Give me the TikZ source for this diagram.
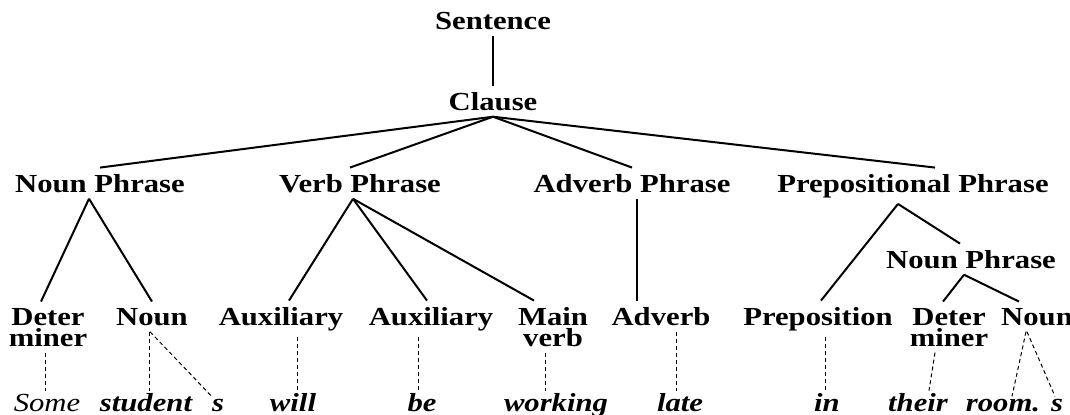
\documentclass[tikz,border=0pt]{standalone}
\usepackage{fontspec}
\setmainfont{Liberation Serif}[FakeStretch=1.18]

\begin{document}
\begin{tikzpicture}[x=0.5pt,y=-0.5pt,
  cat/.style={font=\fontsize{13}{10.5}\selectfont\bfseries, anchor=base,
    inner xsep=0pt, inner ysep=3pt, align=center},
  word/.style={font=\fontsize{13}{10.5}\selectfont\bfseries\itshape, anchor=base,
    inner xsep=0pt, inner ysep=1pt},
  branch/.style={line width=1pt},
  trace/.style={line width=0.5pt, dash pattern=on 2pt off 1.5pt}]
  \useasboundingbox (0,0) rectangle (1070,414);

  % phrase levels
  \node[cat] (S)    at (493,29)  {Sentence};
  \node[cat] (C)    at (493,110) {Clause};
  \node[cat] (NP)   at (100,192) {Noun Phrase};
  \node[cat] (VP)   at (360,192) {Verb Phrase};
  \node[cat] (AdvP) at (632,192) {Adverb Phrase};
  \node[cat] (PP)   at (913,192) {Prepositional Phrase};
  \node[cat] (NP2)  at (971,268) {Noun Phrase};

  % word classes (two-line ones sit on their last line)
  \node[cat] (Det)  at (48,346)   {Deter\\miner};
  \node[cat] (N)    at (152,325)  {Noun};
  \node[cat] (Aux1) at (281,325)  {Auxiliary};
  \node[cat] (Aux2) at (431,325)  {Auxiliary};
  \node[cat] (MV)   at (553,346)  {Main\\verb};
  \node[cat] (Adv)  at (661,325)  {Adverb};
  \node[cat] (P)    at (818,325)  {Preposition};
  \node[cat] (Det2) at (949,346)  {Deter\\miner};
  \node[cat] (N2)   at (1037,325) {Noun};

  % words
  \node[word, font=\fontsize{13}{10.5}\selectfont\itshape] (some) at (47,411) {Some};
  \node[word] (student) at (146,411)  {student};
  \node[word] (s1)      at (218,411)  {s};
  \node[word] (will)    at (293,411)  {will};
  \node[word] (be)      at (422,411)  {be};
  \node[word] (working) at (556,411)  {working};
  \node[word] (late)    at (680,411)  {late};
  \node[word] (in)      at (827,411)  {in};
  \node[word] (their)   at (918,411)  {their};
  \node[word] (room)    at (1003,411) {room.};
  \node[word] (s2)      at (1057,411) {s};

  % tree
  \draw[branch] (S) -- (C);
  \draw[branch] (C.south) -- (NP.north);
  \draw[branch] (C.south) -- ([xshift=-5pt]VP.north);
  \draw[branch] (C.south) -- (AdvP.north);
  \draw[branch] (C.south) -- ([xshift=11pt]PP.north);
  \draw[branch] ([xshift=-5.5pt]NP.south) -- ([xshift=-3.5pt]Det.north);
  \draw[branch] ([xshift=-5.5pt]NP.south) -- (N.north);
  \draw[branch] ([xshift=-3.5pt]VP.south) -- ([xshift=4pt]Aux1.north);
  \draw[branch] ([xshift=-3.5pt]VP.south) -- ([xshift=-2pt]Aux2.north);
  \draw[branch] ([xshift=-3.5pt]VP.south) -- ([xshift=-9.5pt]MV.north);
  \draw[branch] ([xshift=2.5pt]AdvP.south) -- ([xshift=-12pt]Adv.north);
  \draw[branch] ([xshift=-7.5pt]PP.south) -- ([xshift=1.5pt]P.north);
  \draw[branch] ([xshift=-7.5pt]PP.south) -- ([xshift=-5.5pt]NP2.north);
  \draw[branch] ([xshift=-3.5pt]NP2.south) -- ([xshift=-3pt]Det2.north);
  \draw[branch] ([xshift=-3.5pt]NP2.south) -- ([xshift=-9pt]N2.north);

  % words to classes
  \draw[trace] ([xshift=-1.5pt]Det.south) -- ([xshift=-1pt]some.north);
  \draw[trace] ([xshift=-1.5pt]N.south) -- ([xshift=1.5pt]student.north);
  \draw[trace] ([xshift=-1pt]N.south) -- (s1.north west);
  \draw[trace] ([xshift=8pt]Aux1.south) -- ([xshift=2pt]will.north);
  \draw[trace] ([xshift=-6.5pt]Aux2.south) -- ([xshift=-2pt]be.north);
  \draw[trace] ([xshift=-4pt]MV.south) -- ([xshift=-5.5pt]working.north);
  \draw[trace] ([xshift=7.5pt]Adv.south) -- ([xshift=-2pt]late.north);
  \draw[trace] ([xshift=3.5pt]P.south) -- ([xshift=-1pt]in.north);
  \draw[trace] ([xshift=-7pt]Det2.south) -- ([xshift=5.5pt]their.north);
  \draw[trace] ([xshift=-5.5pt]N2.south) -- ([xshift=4.5pt]room.north);
  \draw[trace] ([xshift=-5pt]N2.south) -- ([xshift=-1pt]s2.north);
\end{tikzpicture}
\end{document}
